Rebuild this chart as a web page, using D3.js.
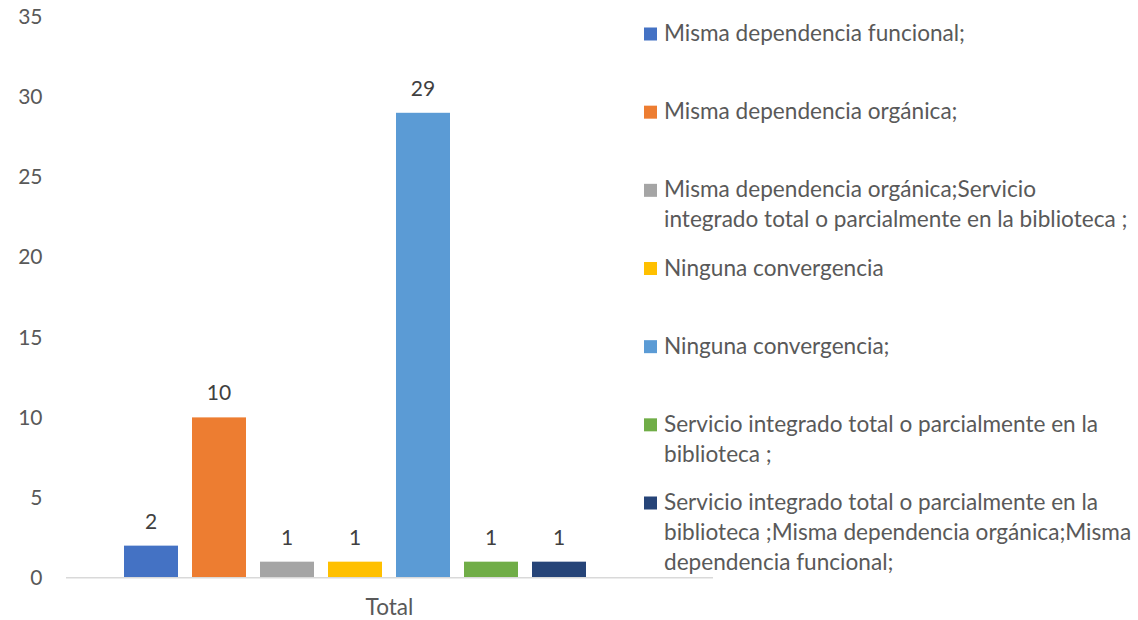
<!DOCTYPE html>
<html>
<head>
<meta charset="utf-8">
<script src="https://cdn.jsdelivr.net/npm/d3@7"></script>
<style>
  html, body { margin: 0; padding: 0; background: #ffffff; }
  svg { display: block; }
  text { font-family: Lato, "Open Sans", sans-serif; }
</style>
</head>
<body>
<svg id="chart" width="1138" height="620"></svg>
<script>
// ---- data ----
const categories = ["Total"];
const seriesNames = [
  "Misma dependencia funcional;",
  "Misma dependencia orgánica;",
  "Misma dependencia orgánica;Servicio\nintegrado total o parcialmente en la biblioteca ;",
  "Ninguna convergencia",
  "Ninguna convergencia;",
  "Servicio integrado total o parcialmente en la\nbiblioteca ;",
  "Servicio integrado total o parcialmente en la\nbiblioteca ;Misma dependencia orgánica;Misma\ndependencia funcional;"
];
const seriesValues = [2, 10, 1, 1, 29, 1, 1];
const seriesColors = ["#4472C4", "#ED7D31", "#A5A5A5", "#FFC000", "#5B9BD5", "#70AD47", "#264478"];
const yTicks = [0, 5, 10, 15, 20, 25, 30, 35];

// ---- layout ----
const svg = d3.select("#chart");
const FS = 21;
const FS_LEG = 22.6;
const y = d3.scaleLinear().domain([0, 35]).range([577.7, 16.6]);
const xCat = d3.scaleBand().domain(categories).range([66, 713]);
const xSer = d3.scaleBand().domain(d3.range(seriesValues.length))
  .range([124, 586]).paddingInner(14 / 68).paddingOuter(0);

// y axis labels
svg.append("g").selectAll("text").data(yTicks).join("text")
  .attr("x", 42.5).attr("y", d => y(d)).attr("dy", "0.35em")
  .attr("text-anchor", "end").attr("font-size", FS).attr("fill", "#595959")
  .text(d => d);

// bars
svg.append("g").selectAll("rect").data(seriesValues).join("rect")
  .attr("x", (d, i) => xSer(i)).attr("width", xSer.bandwidth())
  .attr("y", d => y(d)).attr("height", d => y(0) - y(d))
  .attr("fill", (d, i) => seriesColors[i]);

// data labels
svg.append("g").selectAll("text").data(seriesValues).join("text")
  .attr("x", (d, i) => xSer(i) + xSer.bandwidth() / 2)
  .attr("y", d => y(d) - 17)
  .attr("text-anchor", "middle").attr("font-size", FS).attr("fill", "#404040")
  .text(d => d);

// x axis line
svg.append("line")
  .attr("x1", xCat.range()[0]).attr("x2", xCat.range()[1])
  .attr("y1", y(0)).attr("y2", y(0))
  .attr("stroke", "#D9D9D9").attr("stroke-width", 1.5);

// category label
svg.append("g").selectAll("text").data(categories).join("text")
  .attr("x", d => xCat(d) + xCat.bandwidth() / 2).attr("y", 615)
  .attr("text-anchor", "middle").attr("font-size", FS_LEG).attr("fill", "#595959")
  .text(d => d);

// legend
const ly = d3.scalePoint().domain(d3.range(seriesNames.length)).range([41, 510]);
const lg = svg.append("g").selectAll("g").data(seriesNames).join("g");
lg.append("rect")
  .attr("x", 644).attr("y", (d, i) => ly(i) - 13.5)
  .attr("width", 13).attr("height", 13)
  .attr("fill", (d, i) => seriesColors[i]);
lg.append("text")
  .attr("x", 664).attr("y", (d, i) => ly(i))
  .attr("font-size", FS_LEG).attr("fill", "#595959")
  .each(function (d) {
    const t = d3.select(this);
    d.split("\n").forEach((line, k) => {
      t.append("tspan").attr("x", 664).attr("dy", k === 0 ? 0 : 30).text(line);
    });
  });
</script>
</body>
</html>
